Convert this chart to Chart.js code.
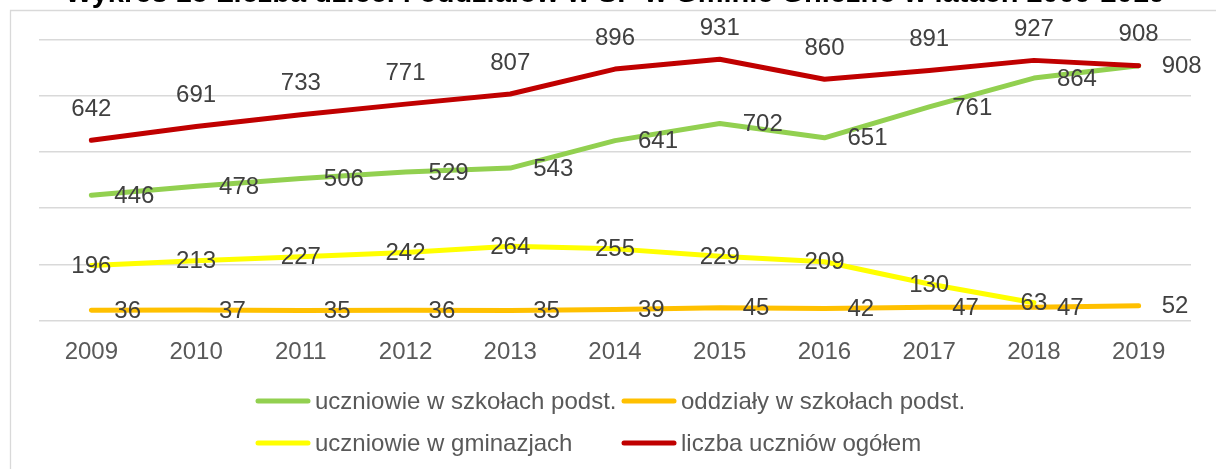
<!DOCTYPE html>
<html>
<head>
<meta charset="utf-8">
<script src="https://cdn.jsdelivr.net/npm/chart.js@4/dist/chart.umd.min.js"></script>
<style>
  html, body { margin: 0; padding: 0; background: #ffffff; }
  #wrap { width: 1216px; height: 469px; position: relative; }
</style>
</head>
<body>
<div id="wrap"><canvas id="c" width="1216" height="469"></canvas></div>
<script>
const titleText = 'Wykres 15 Liczba dzieci i oddziałów w SP w Gminie Gniezno w latach 2009-2019';
const categories = ['2009','2010','2011','2012','2013','2014','2015','2016','2017','2018','2019'];
const seriesNames = ['uczniowie w szkołach podst.', 'oddziały w szkołach podst.', 'uczniowie w gminazjach', 'liczba uczniów ogółem'];
const primaryPupils = [446, 478, 506, 529, 543, 641, 702, 651, 761, 864, 908];
const primaryClasses = [36, 37, 35, 36, 35, 39, 45, 42, 47, 47, 52];
const gymPupils = [196, 213, 227, 242, 264, 255, 229, 209, 130, 63, null];
const totalPupils = [642, 691, 733, 771, 807, 896, 931, 860, 891, 927, 908];
const yTicks = [0, 200, 400, 600, 800, 1000];

const FONT = '"Liberation Sans", Arial, sans-serif';

const borderPlugin = {
  id: 'frame',
  beforeDraw(chart) {
    const ctx = chart.ctx;
    ctx.save();
    ctx.fillStyle = '#ffffff';
    ctx.fillRect(0, 0, chart.width, chart.height);
    ctx.strokeStyle = '#d9d9d9';
    ctx.lineWidth = 1.3;
    ctx.beginPath();
    ctx.moveTo(10.5, chart.height);
    ctx.lineTo(10.5, 10.5);
    ctx.lineTo(chart.width, 10.5);
    ctx.stroke();
    ctx.restore();
  }
};

const labelPlugin = {
  id: 'valueLabels',
  afterDatasetsDraw(chart) {
    const ctx = chart.ctx;
    ctx.save();
    ctx.font = '24px ' + FONT;
    ctx.fillStyle = '#404040';
    chart.data.datasets.forEach((ds, i) => {
      const meta = chart.getDatasetMeta(i);
      meta.data.forEach((pt, j) => {
        const v = ds.data[j];
        if (v === null || v === undefined) return;
        const txt = String(v);
        let x = pt.x, y = pt.y;
        if (ds.labelPos === 'above') {
          ctx.textAlign = 'center'; ctx.textBaseline = 'middle';
          y -= 31;
        } else if (ds.labelPos === 'right') {
          ctx.textAlign = 'left'; ctx.textBaseline = 'middle';
          x += 23; y += 1;
        } else {
          ctx.textAlign = 'center'; ctx.textBaseline = 'middle';
          y += 1;
        }
        ctx.fillText(txt, x, y);
      });
    });
    ctx.restore();
  }
};

const legendPlugin = {
  id: 'gridLegend',
  afterDraw(chart) {
    const ctx = chart.ctx;
    const colX = [256, 622];
    const rowY = [401, 443];
    ctx.save();
    ctx.font = '24px ' + FONT;
    ctx.textAlign = 'left';
    ctx.textBaseline = 'middle';
    chart.data.datasets.forEach((ds, i) => {
      const x = colX[i % 2];
      const y = rowY[Math.floor(i / 2)];
      ctx.strokeStyle = ds.borderColor;
      ctx.lineWidth = 5;
      ctx.lineCap = 'round';
      ctx.beginPath();
      ctx.moveTo(x + 2, y);
      ctx.lineTo(x + 52, y);
      ctx.stroke();
      ctx.fillStyle = '#595959';
      ctx.fillText(ds.label, x + 59, y + 1);
    });
    ctx.restore();
  }
};

const lineStyle = {
  borderWidth: 5,
  pointRadius: 0,
  pointHoverRadius: 0,
  tension: 0,
  fill: false,
  borderCapStyle: 'round',
  borderJoinStyle: 'round',
  spanGaps: false
};

new Chart(document.getElementById('c'), {
  type: 'line',
  data: {
    labels: categories,
    datasets: [
      Object.assign({ label: seriesNames[0], data: primaryPupils, borderColor: '#92D050', backgroundColor: '#92D050', labelPos: 'right', order: 3 }, lineStyle),
      Object.assign({ label: seriesNames[1], data: primaryClasses, borderColor: '#FFC000', backgroundColor: '#FFC000', labelPos: 'right', order: 2 }, lineStyle),
      Object.assign({ label: seriesNames[2], data: gymPupils, borderColor: '#FFFF00', backgroundColor: '#FFFF00', labelPos: 'center', order: 1 }, lineStyle),
      Object.assign({ label: seriesNames[3], data: totalPupils, borderColor: '#C00000', backgroundColor: '#C00000', labelPos: 'above', order: 0 }, lineStyle)
    ]
  },
  options: {
    responsive: false,
    animation: false,
    devicePixelRatio: 1,
    layout: { padding: { left: 39, right: 25, top: 0, bottom: 84.6 } },
    plugins: {
      legend: { display: false },
      tooltip: { enabled: false },
      title: {
        display: true,
        text: titleText,
        color: '#000000',
        font: { family: FONT, size: 29, weight: 'bold' },
        padding: { top: -23.5, bottom: 28.6 }
      }
    },
    scales: {
      x: {
        offset: true,
        grid: { display: false, drawTicks: false },
        border: { display: false },
        ticks: { color: '#595959', font: { family: FONT, size: 24 }, padding: 17.6, maxRotation: 0, autoSkip: false }
      },
      y: {
        min: 0,
        max: 1000,
        afterBuildTicks(scale) { scale.ticks = yTicks.map(v => ({ value: v })); },
        grid: { color: '#d9d9d9', lineWidth: 1.5, drawTicks: false },
        border: { display: false },
        ticks: { display: false }
      }
    }
  },
  plugins: [borderPlugin, labelPlugin, legendPlugin]
});
</script>
</body>
</html>
